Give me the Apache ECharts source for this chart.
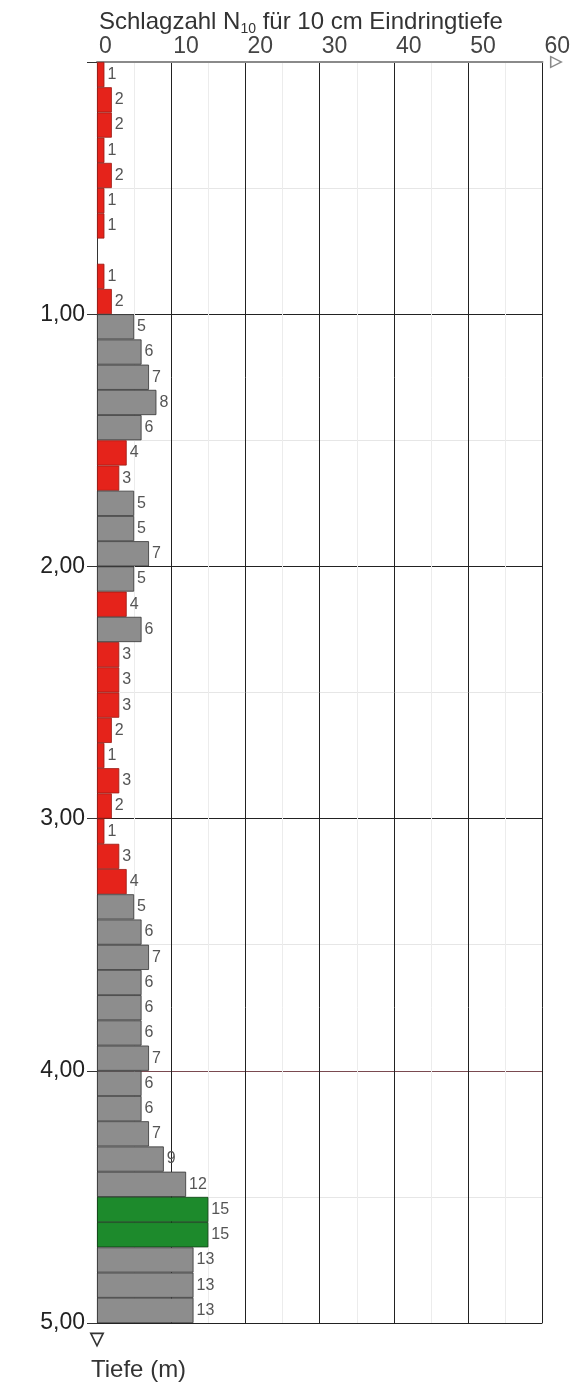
<!DOCTYPE html>
<html>
<head>
<meta charset="utf-8">
<script src="https://cdn.jsdelivr.net/npm/echarts@6/dist/echarts.min.js"></script>
<style>html,body{margin:0;padding:0;background:#fff}#c{width:573px;height:1383px}</style>
</head>
<body>
<div id="c"></div>
<script>
// depth intervals (10 cm each), 0.0 .. 5.0 m
const depths = [];
for (let i = 0; i < 50; i++) depths.push((i / 10).toFixed(1) + '-' + ((i + 1) / 10).toFixed(1));
// blow counts N10
const blows = [1,2,2,1,2,1,1,null,1,2,
               5,6,7,8,6,4,3,5,5,7,
               5,4,6,3,3,3,2,1,3,2,
               1,3,4,5,6,7,6,6,6,7,
               6,6,7,9,12,15,15,13,13,13];
// soil class per interval: r = red, n = grey, g = green
const kinds = ['r','r','r','r','r','r','r','r','r','r',
               'n','n','n','n','n','r','r','n','n','n',
               'n','r','n','r','r','r','r','r','r','r',
               'r','r','r','n','n','n','n','n','n','n',
               'n','n','n','n','n','g','g','n','n','n'];
const xTicks = [0,10,20,30,40,50,60];
const depthTicks = [0,1,2,3,4,5];

const FONT = 'Liberation Sans, Arial, sans-serif';
const colors = { r: '#e5231b', n: '#8d8d8d', g: '#1d8a2c' };
const borders = { r: '#9a1c14', n: '#333333', g: '#0f3f14' };
const arrowPath = 'path://M5,0 L10,10 L0,10 Z M5,2.4 L1.8,8.8 L8.2,8.8 Z';

const chart = echarts.init(document.getElementById('c'));
chart.setOption({
  animation: false,
  backgroundColor: '#fff',
  title: {
    text: 'Schlagzahl N{sub|10} für 10 cm Eindringtiefe',
    left: 99, top: 9, padding: 0,
    textStyle: {
      fontSize: 24, fontWeight: 'normal', color: '#333', fontFamily: FONT,
      rich: { sub: { fontSize: 14, color: '#333', padding: [13, 0, 0, 0], fontFamily: FONT } }
    }
  },
  grid: { left: 97, top: 62, width: 451, height: 1261, containLabel: false },
  xAxis: {
    type: 'value', position: 'top', min: 0, max: 60, interval: 10,
    axisLine: { show: true, lineStyle: { color: '#8a8a8a', width: 2 }, symbol: ['none', arrowPath], symbolSize: [13, 16], symbolOffset: [0, 14] },
    axisTick: { show: false },
    axisLabel: { color: '#444', fontSize: 23, margin: 4, align: 'left', padding: [0, 0, 0, 2], fontFamily: FONT,
      formatter: v => xTicks.includes(v) ? String(v) : '' },
    splitLine: { show: true, lineStyle: { color: '#222', width: 1 } },
    minorTick: { show: false, splitNumber: 2 },
    minorSplitLine: { show: true, lineStyle: { color: '#ececec', width: 1 } }
  },
  yAxis: [
    {
      type: 'value', min: 0, max: 5, interval: 1, inverse: true,
      name: 'Tiefe (m)', nameLocation: 'end', nameGap: 35,
      nameTextStyle: { fontSize: 24, color: '#333', align: 'left', padding: [0, 0, 0, -6], fontFamily: FONT },
      axisLine: { show: true, lineStyle: { color: '#333', width: 1 }, symbol: [arrowPath, 'none'], symbolSize: [15, 18], symbolOffset: [-17, 0] },
      axisTick: { show: true, length: 10, lineStyle: { color: '#333' } },
      axisLabel: { color: '#222', fontSize: 23, margin: 12, fontFamily: FONT,
        formatter: v => (v === 0 || !depthTicks.includes(v)) ? '' : v.toFixed(2).replace('.', ',') },
      splitLine: { show: true, lineStyle: { color: ['#222','#222','#222','#222','#7a4a50','#222'], width: 1 } },
      minorTick: { show: false, splitNumber: 2 },
      minorSplitLine: { show: true, lineStyle: { color: '#e6e6e6', width: 1 } }
    },
    {
      type: 'category', data: depths, inverse: true, show: false,
      axisLine: { show: false }, axisTick: { show: false }, axisLabel: { show: false }, splitLine: { show: false }
    }
  ],
  series: [{
    type: 'bar',
    xAxisIndex: 0, yAxisIndex: 1,
    barCategoryGap: 0,
    data: blows.map((v, i) => ({
      value: v,
      itemStyle: { color: colors[kinds[i]], borderColor: borders[kinds[i]], borderWidth: 0.8 }
    })),
    label: {
      show: true, position: 'right', distance: 3, fontSize: 16, color: '#555',
      fontFamily: FONT,
      formatter: p => (p.value == null ? '' : String(p.value))
    }
  }]
});
</script>
</body>
</html>
